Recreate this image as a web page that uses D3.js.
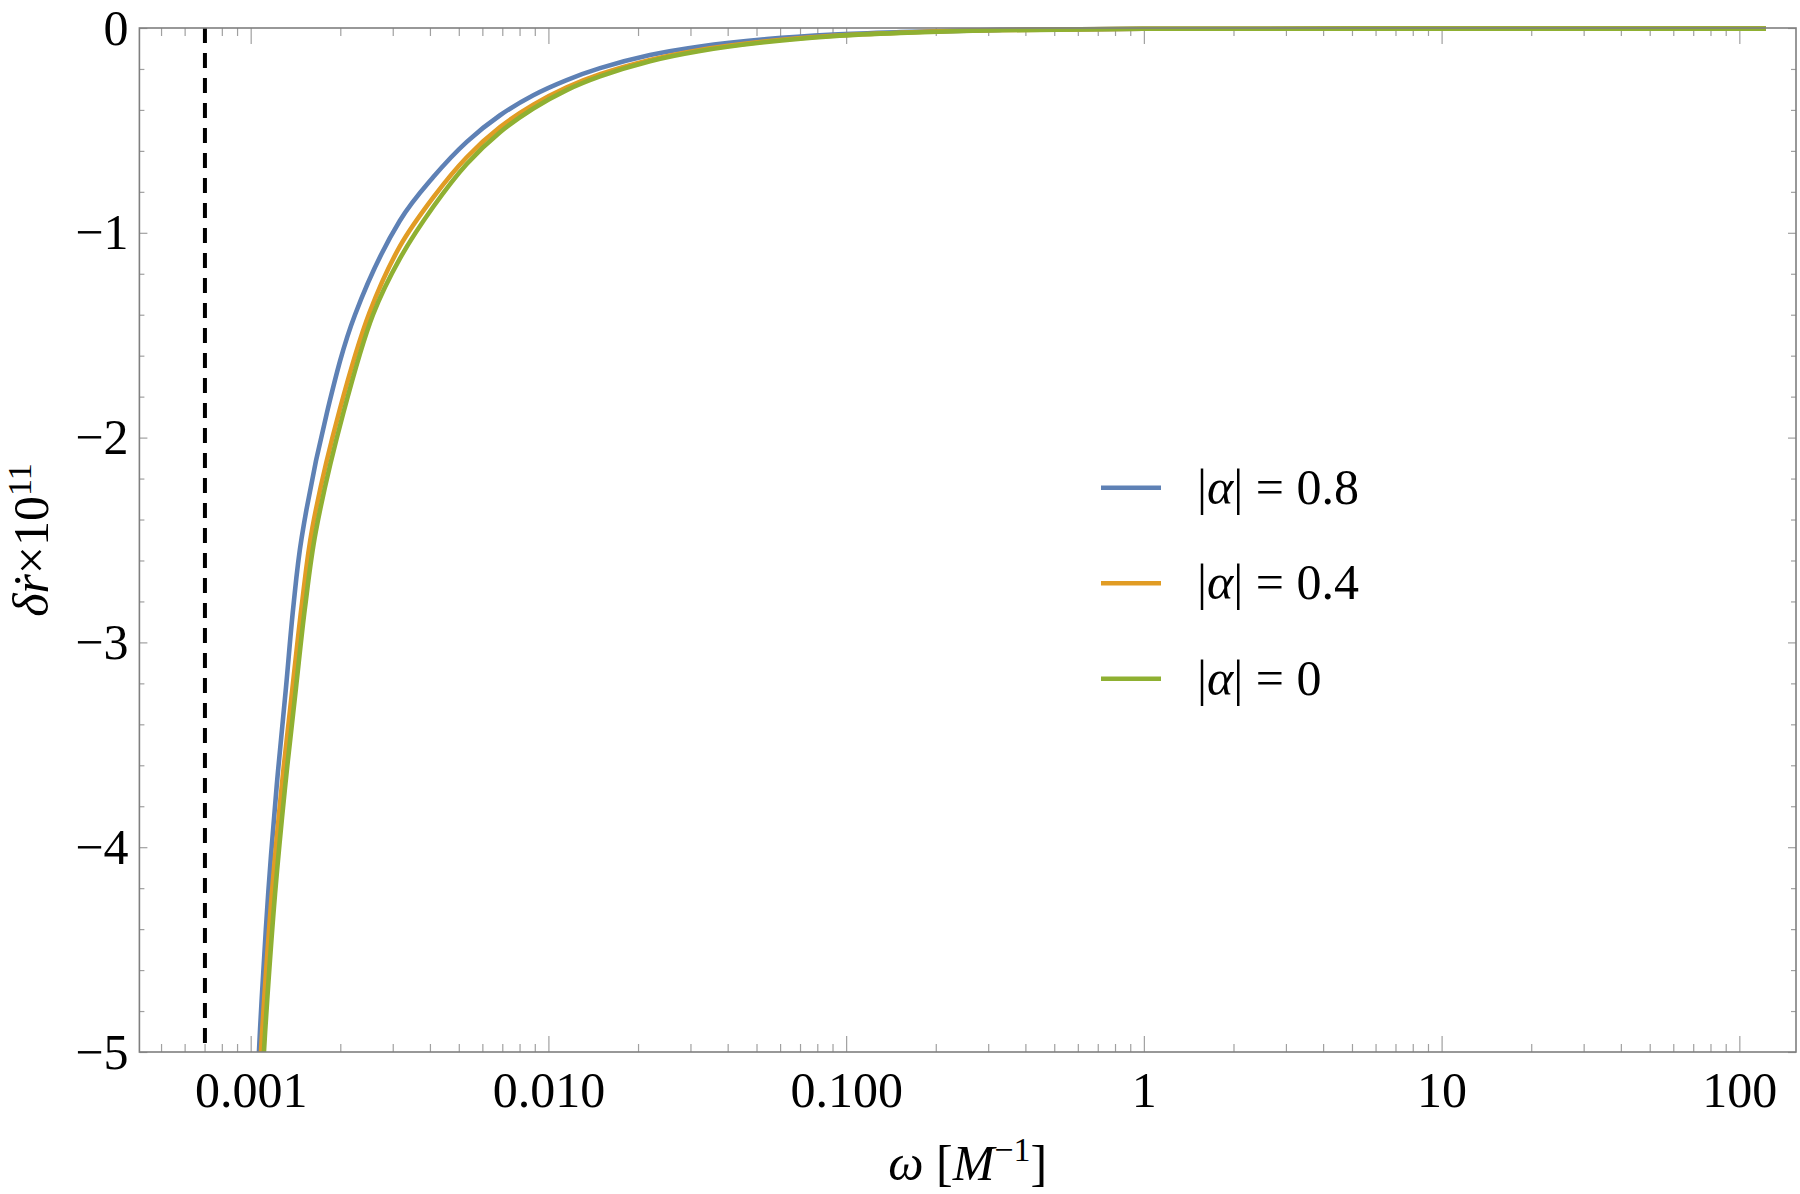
<!DOCTYPE html>
<html>
<head>
<meta charset="utf-8">
<script src="https://cdn.jsdelivr.net/npm/d3@7"></script>
<style>
  body { margin: 0; background: #fff; }
  svg text { font-family: "Liberation Serif", "DejaVu Serif", serif; fill: #000; }
</style>
</head>
<body>
<svg id="chart" width="1800" height="1194"></svg>
<script>
// --- data ---
var seriesLabels = ["0.8", "0.4", "0"];
var seriesColors = ["#5E81B5", "#E19C24", "#8FB032"];

var omega08 = [1.040e-3, 1.066e-3, 1.089e-3, 1.146e-3, 1.223e-3, 1.314e-3, 1.390e-3, 1.483e-3, 1.809e-3, 2.241e-3,
               3.173e-3, 4.105e-3, 5.318e-3, 6.879e-3, 8.898e-3, 0.01152, 0.01491, 0.02194, 0.03230, 0.05411,
               0.09037, 0.1518, 0.33, 1, 10, 122.8];
var delta08 = [-5.35, -5.0, -4.74, -4.22, -3.70, -3.22, -2.83, -2.49, -1.87, -1.40,
               -0.94, -0.728, -0.556, -0.426, -0.328, -0.254, -0.196, -0.132, -0.090, -0.054,
               -0.032, -0.020, -0.009, -0.004, -0.003, -0.003];

var omega04 = [1.057e-3, 1.083e-3, 1.111e-3, 1.179e-3, 1.274e-3, 1.387e-3, 1.487e-3, 1.612e-3, 1.995e-3, 2.507e-3,
               3.173e-3, 4.105e-3, 5.318e-3, 6.879e-3, 8.898e-3, 0.01152, 0.01491, 0.02194, 0.03230, 0.05411,
               0.09037, 0.1518, 0.33, 1, 10, 122.8];
var delta04 = [-5.3, -5.0, -4.735, -4.22, -3.69, -3.20, -2.81, -2.44, -1.86, -1.39,
               -1.065, -0.827, -0.631, -0.484, -0.375, -0.290, -0.226, -0.156, -0.107, -0.065,
               -0.038, -0.023, -0.010, -0.004, -0.003, -0.003];

var omega0 = [1.081e-3, 1.108e-3, 1.137e-3, 1.207e-3, 1.304e-3, 1.420e-3, 1.522e-3, 1.654e-3, 2.047e-3, 2.575e-3,
              3.173e-3, 4.105e-3, 5.318e-3, 6.879e-3, 8.898e-3, 0.01152, 0.01491, 0.02194, 0.03230, 0.05411,
              0.09037, 0.1518, 0.33, 1, 10, 122.8];
var delta0 = [-5.3, -5.0, -4.74, -4.23, -3.71, -3.22, -2.83, -2.46, -1.88, -1.40,
              -1.125, -0.873, -0.664, -0.509, -0.393, -0.303, -0.236, -0.162, -0.112, -0.068,
              -0.040, -0.024, -0.011, -0.004, -0.003, -0.003];

var dashOmega = 7.02e-4;   // vertical dashed line

var xTickValues = [0.001, 0.01, 0.1, 1, 10, 100];
var xTickLabels = ["0.001", "0.010", "0.100", "1", "10", "100"];
var yTickValues = [-5, -4, -3, -2, -1, 0];
var yTickLabels = ["\u22125", "\u22124", "\u22123", "\u22122", "\u22121", "0"];

var xDomain = [4.229e-4, 155.0];
var yDomain = [-5, 0];

// --- layout ---
var plotL = 139.4, plotR = 1796, plotT = 28, plotB = 1052;
var fontSize = 50;
var svg = d3.select("#chart");

var x = d3.scaleLog().domain(xDomain).range([plotL, plotR]);
var y = d3.scaleLinear().domain(yDomain).range([plotB, plotT]);

// minor ticks
var xMinor = [];
for (var e = -4; e <= 2; e++) {
  for (var m = 2; m <= 9; m++) {
    var v = m * Math.pow(10, e);
    if (v > xDomain[0] && v < xDomain[1]) xMinor.push(v);
  }
}
var yMinor = d3.range(-5, 0.001, 0.2).filter(function(v) {
  return Math.abs(v - Math.round(v)) > 1e-6;
});

function styleAxis(g) {
  g.select(".domain").remove();
  g.selectAll(".tick line").attr("stroke", "#a0a0a0").attr("stroke-width", 1.2);
  g.selectAll(".tick text").attr("font-size", fontSize).attr("font-family", "Liberation Serif");
}

// bottom
svg.append("g").attr("transform", "translate(0," + plotB + ")")
  .call(d3.axisBottom(x).tickValues(xMinor).tickSize(-8).tickFormat(""))
  .call(styleAxis);
svg.append("g").attr("transform", "translate(0," + plotB + ")")
  .call(d3.axisBottom(x).tickValues(xTickValues).tickSize(-16).tickPadding(19)
        .tickFormat(function(d, i) { return xTickLabels[i]; }))
  .call(styleAxis);
// top
svg.append("g").attr("transform", "translate(0," + plotT + ")")
  .call(d3.axisTop(x).tickValues(xMinor).tickSize(-8).tickFormat(""))
  .call(styleAxis);
svg.append("g").attr("transform", "translate(0," + plotT + ")")
  .call(d3.axisTop(x).tickValues(xTickValues).tickSize(-16).tickFormat(""))
  .call(styleAxis);
// left
svg.append("g").attr("transform", "translate(" + plotL + ",0)")
  .call(d3.axisLeft(y).tickValues(yMinor).tickSize(-5).tickFormat(""))
  .call(styleAxis);
svg.append("g").attr("transform", "translate(" + plotL + ",0)")
  .call(d3.axisLeft(y).tickValues(yTickValues).tickSize(-8).tickPadding(11)
        .tickFormat(function(d, i) { return yTickLabels[i]; }))
  .call(styleAxis);
// right
svg.append("g").attr("transform", "translate(" + plotR + ",0)")
  .call(d3.axisRight(y).tickValues(yMinor).tickSize(-5).tickFormat(""))
  .call(styleAxis);
svg.append("g").attr("transform", "translate(" + plotR + ",0)")
  .call(d3.axisRight(y).tickValues(yTickValues).tickSize(-8).tickFormat(""))
  .call(styleAxis);

// clip
svg.append("clipPath").attr("id", "plotclip")
  .append("rect").attr("x", plotL).attr("y", plotT - 3)
  .attr("width", plotR - plotL).attr("height", plotB - plotT + 3);

var plot = svg.append("g").attr("clip-path", "url(#plotclip)");

// dashed line
plot.append("line")
  .attr("x1", x(dashOmega)).attr("x2", x(dashOmega))
  .attr("y1", y(0)).attr("y2", y(-5))
  .attr("stroke", "#000").attr("stroke-width", 4)
  .attr("stroke-dasharray", "15,10");

var line = d3.line()
  .x(function(d) { return x(d[0]); })
  .y(function(d) { return y(d[1]); })
  .curve(d3.curveCatmullRom.alpha(0.5));

var series = [
  d3.zip(omega08, delta08),
  d3.zip(omega04, delta04),
  d3.zip(omega0, delta0)
];

series.forEach(function(pts, i) {
  plot.append("path")
    .datum(pts)
    .attr("d", line)
    .attr("fill", "none")
    .attr("stroke", seriesColors[i])
    .attr("stroke-width", 4.6)
    .attr("stroke-linejoin", "round");
});

// frame
svg.append("rect")
  .attr("x", plotL).attr("y", plotT)
  .attr("width", plotR - plotL).attr("height", plotB - plotT)
  .attr("fill", "none").attr("stroke", "#7f7f7f").attr("stroke-width", 1.6);

// axis labels
var xl = svg.append("text")
  .attr("x", (plotL + plotR) / 2).attr("y", 1180)
  .attr("text-anchor", "middle").attr("font-size", fontSize);
xl.append("tspan").attr("font-style", "italic").text("\u03C9");
xl.append("tspan").text(" [");
xl.append("tspan").attr("font-style", "italic").text("M");
xl.append("tspan").attr("font-size", 34).attr("dy", -19).text("\u22121");
xl.append("tspan").attr("dy", 19).text("]");

var yl = svg.append("text")
  .attr("transform", "translate(48," + ((plotT + plotB) / 2) + ") rotate(-90)")
  .attr("text-anchor", "middle").attr("font-size", fontSize);
yl.append("tspan").attr("font-style", "italic").text("\u03B4r\u0307");
yl.append("tspan").text("\u00D710");
yl.append("tspan").attr("font-size", 34).attr("dy", -17).text("11");

// legend
var legX = 1101, legY = 487.7, legStep = 95.5;
seriesLabels.forEach(function(lab, i) {
  var cy = legY + i * legStep;
  svg.append("line")
    .attr("x1", legX).attr("x2", legX + 60)
    .attr("y1", cy).attr("y2", cy)
    .attr("stroke", seriesColors[i]).attr("stroke-width", 4.6);
  var t = svg.append("text")
    .attr("x", legX + 96).attr("y", cy + 16)
    .attr("font-size", fontSize);
  t.append("tspan").text("|");
  t.append("tspan").attr("font-style", "italic").text("\u03B1");
  t.append("tspan").text("| = " + lab);
});
</script>
</body>
</html>
